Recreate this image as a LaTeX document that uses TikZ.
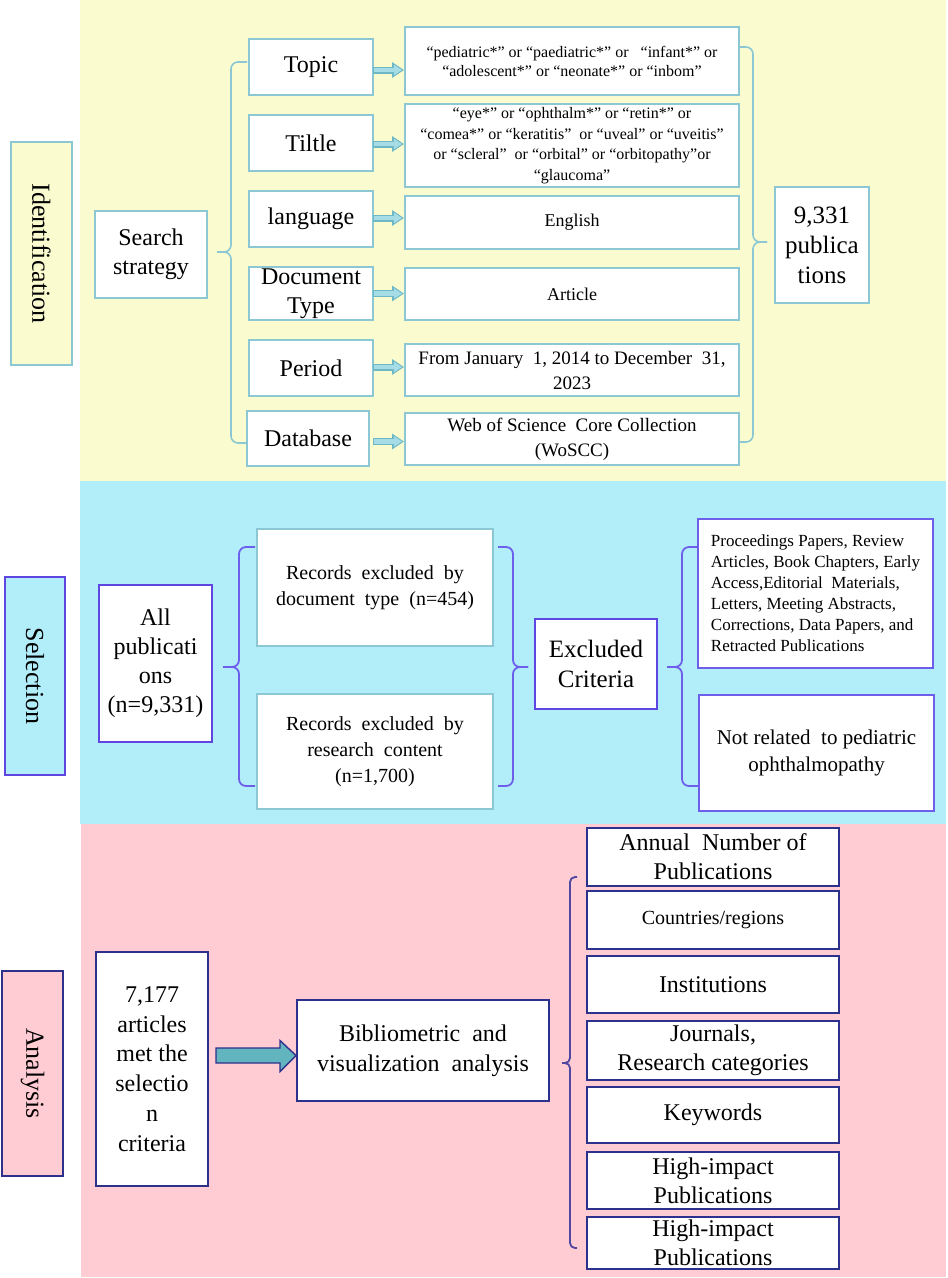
\documentclass[tikz,border=0pt]{standalone}
\usepackage{fontspec}
\setmainfont{Liberation Serif}
\usetikzlibrary{arrows.meta,calc}
\definecolor{yel}{RGB}{250,252,208}
\definecolor{blu}{RGB}{178,237,250}
\definecolor{pnk}{RGB}{255,204,211}
\definecolor{tealb}{RGB}{140,200,212}
\definecolor{tealdk}{RGB}{110,184,198}
\definecolor{teallt}{RGB}{165,220,230}
\definecolor{vio}{RGB}{95,70,225}
\definecolor{viob}{RGB}{110,95,235}
\definecolor{navy}{RGB}{46,49,140}
\definecolor{navyb}{RGB}{80,72,160}
\definecolor{afill}{RGB}{98,180,190}
\newcommand\bracedraw[7]{%
  \draw[#1] (#2,#3) -- (#4,#3) -- (#4,#5) -- (#6,#5);
  \draw[#1] (#6,#5) -- (#4,#5) -- (#4,#7) -- (#2,#7);}
% #1 from node, #2 to node, #3 x offset, #4 y offset
\newcommand\harrow[4]{%
  \coordinate (hs#1) at ($(#1.east)+(#3,#4)$);
  \coordinate (he#1) at (hs#1 -| #2.west);
  \draw[harrA] (hs#1) -- (he#1);
  \draw[harrB] (hs#1) -- (he#1);}
\begin{document}
\begin{tikzpicture}[x=1pt,y=-1pt,
  wh/.style 2 args={minimum width=#1pt,minimum height=#2pt},
  box/.style={draw, fill=white, inner sep=0pt, outer sep=0pt, align=center, anchor=north west, line width=1.6pt},
  idb/.style={box, draw=tealb},
  seb/.style={box, draw=vio},
  reb/.style={box, draw=tealb, line width=1.4pt},
  anb/.style={box, draw=navy},
  lab/.style={box, rotate=-90, anchor=north west, line width=1.8pt, font=\fontsize{26}{30}\selectfont},
  f24/.style={font=\fontsize{24}{29}\selectfont},
  f25/.style={font=\fontsize{25}{30}\selectfont},
  f21/.style={font=\fontsize{21}{27}\selectfont},
  f20/.style={font=\fontsize{20}{26}\selectfont},
  f19/.style={font=\fontsize{19}{25}\selectfont},
  f18/.style={font=\fontsize{18}{24}\selectfont},
  f17/.style={font=\fontsize{17}{21}\selectfont},
  f16/.style={font=\fontsize{16}{19}\selectfont},
  harrA/.style={draw=tealdk, line width=7pt, -{Triangle[length=12pt,width=15pt]}, shorten >=1pt},
  harrB/.style={draw=teallt, line width=4.4pt, -{Triangle[length=8pt,width=10pt]}, shorten <=1.3pt, shorten >=3pt},
  bid/.style={draw=tealb, line width=1.6pt, rounded corners=7pt},
  bse/.style={draw=viob, line width=1.8pt, rounded corners=7pt},
  ban/.style={draw=navyb, line width=1.8pt, rounded corners=5pt},
]
\useasboundingbox (0,0) rectangle (948,1278);
% panels
\fill[yel] (80,0) rectangle (946,481);
\fill[blu] (80,481) rectangle (946,824);
\fill[pnk] (81,824) rectangle (946,1277);

% ---------- Identification ----------
\node[lab, draw=tealb, fill=yel, minimum width=223pt, minimum height=61pt] (idl) at (72,142) {Identification};
\node[idb, f24, wh={112}{87}] (search) at (95,211) {Search\\strategy};
\node[idb, f24, wh={124}{56}] (topic) at (249,39) {Topic};
\node[idb, f24, wh={124}{56}] (title) at (249,115) {Tiltle};
\node[idb, f24, wh={124}{56}] (lang) at (249,191) {language};
\node[idb, f24, wh={124}{53}] (doct) at (249,267) {Document\\Type};
\node[idb, f24, wh={124}{56}] (period) at (249,340) {Period};
\node[idb, f24, wh={122}{55}] (dbase) at (247,411) {Database};

\node[idb, f16, wh={334}{68}] (tq) at (405,27) {“pediatric*” or “paediatric*” or~~ “infant*” or\\“adolescent*” or “neonate*” or “inbom”};
\node[idb, font=\fontsize{16}{20.5}\selectfont, wh={334}{83}] (tt) at (405,104) {“eye*” or “ophthalm*” or “retin*” or\\“comea*” or “keratitis”~ or “uveal” or “uveitis”\\or “scleral”~ or “orbital” or “orbitopathy”or\\“glaucoma”};
\node[idb, f18, wh={334}{53}] (te) at (405,196) {English};
\node[idb, f18, wh={334}{52}] (ta) at (405,268) {Article};
\node[idb, f19, wh={334}{52}] (tp) at (405,344) {From January~ 1, 2014 to December~ 31,\\2023};
\node[idb, f19, wh={334}{52}] (tw) at (405,413) {Web of Science~ Core Collection\\(WoSCC)};
\node[idb, f25, wh={94}{116}] (pubs) at (775,187) {9,331\\publica\\tions};

\harrow{topic}{tq}{0}{3}
\harrow{title}{tt}{0}{1}
\harrow{lang}{te}{0}{-1}
\harrow{doct}{ta}{0}{0}
\harrow{period}{tp}{0}{-1}
\harrow{dbase}{tw}{4}{3}

\bracedraw{bid}{247}{62}{231}{252}{217}{443}
\bracedraw{bid}{740}{47}{753}{242}{767}{442}

% ---------- Selection ----------
\node[lab, draw=vio, fill=blu, minimum width=198pt, minimum height=60pt] (sell) at (65,577) {Selection};
\node[seb, f24, wh={113}{157}] (allp) at (99,585) {All\\publicati\\ons\\(n=9,331)};
\node[reb, f20, wh={236}{117}] (rec1) at (257,529) {Records~ excluded~ by\\document~ type~ (n=454)};
\node[reb, f20, wh={236}{115}] (rec2) at (257,694) {Records~ excluded~ by\\research~ content\\(n=1,700)};
\node[seb, f25, wh={122}{90}] (excl) at (535,619) {Excluded\\Criteria};
\node[seb, draw=viob, f17, align=left, wh={235}{149}] (proc) at (698,519) {Proceedings Papers, Review\\Articles, Book Chapters, Early\\Access,Editorial~ Materials,\\Letters, Meeting Abstracts,\\Corrections, Data Papers, and\\Retracted Publications};
\node[seb, draw=viob, f21, wh={235}{116}] (notrel) at (699,695) {Not related~ to pediatric\\ophthalmopathy};

\bracedraw{bse}{255}{547}{239}{667}{223}{786}
\bracedraw{bse}{498}{547}{513}{667}{528}{786}
\bracedraw{bse}{698}{547}{682}{667}{667}{786}

% ---------- Analysis ----------
\node[lab, draw=navy, fill=pnk, minimum width=205pt, minimum height=61pt] (anal) at (63,971) {Analysis};
\node[anb, font=\fontsize{24}{29.7}\selectfont, wh={112}{234}] (art) at (96,952) {7,177\\articles\\met the\\selectio\\n\\criteria};
\node[anb, font=\fontsize{24}{30}\selectfont, wh={252}{101}] (biblio) at (297,1000) {Bibliometric~ and\\visualization~ analysis};
\node[anb, f24, line width=2.8pt, wh={252}{58}] (annual) at (587,828) {Annual~ Number of\\Publications};
\node[anb, f20, wh={252}{58}] (countries) at (587,891) {Countries/regions};
\node[anb, f24, wh={252}{57}] (inst) at (587,956) {Institutions};
\node[anb, f24, wh={252}{59}] (journ) at (587,1021) {Journals,\\Research categories};
\node[anb, f24, wh={252}{56}] (keyw) at (587,1087) {Keywords};
\node[anb, f24, wh={252}{57}] (hi1) at (587,1152) {High-impact\\Publications};
\node[anb, f24, wh={252}{52}] (hi2) at (587,1217) {High-impact\\Publications};

\coordinate (bt) at ($(art.east)+(8,-13.5)$);
\coordinate (bh) at ($(biblio.west)+(-1,5)$);
\draw[fill=afill, draw=navy, line width=1.4pt]
  ($(bt)+(0,-7.5)$) -- ($(bh)+(-16,-7.5)$) -- ($(bh)+(-16,-15)$) -- (bh)
  -- ($(bh)+(-16,16)$) -- ($(bh)+(-16,7.5)$) -- ($(bt)+(0,7.5)$) -- cycle;

\bracedraw{ban}{577}{877}{570}{1063}{562}{1248}
\end{tikzpicture}
\end{document}
